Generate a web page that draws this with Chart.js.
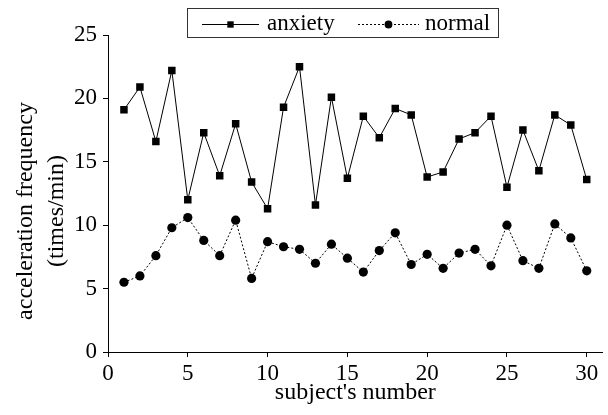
<!DOCTYPE html>
<html>
<head>
<meta charset="utf-8">
<script src="https://cdn.jsdelivr.net/npm/chart.js@4.4.0/dist/chart.umd.min.js"></script>
<style>
  html, body { margin: 0; padding: 0; background: #fff; }
  #wrap { width: 608px; height: 415px; position: relative; }
</style>
</head>
<body>
<div id="wrap"><canvas id="myChart"></canvas></div>
<script>
// data
var subjects = [1, 2, 3, 4, 5, 6, 7, 8, 9, 10, 11, 12, 13, 14, 15,
  16, 17, 18, 19, 20, 21, 22, 23, 24, 25, 26, 27, 28, 29, 30];
var anxiety = [19.1, 20.9, 16.6, 22.2, 12.0, 17.3, 13.9, 18.0, 13.4, 11.3,
  19.3, 22.5, 11.6, 20.1, 13.7, 18.6, 16.9, 19.2, 18.7, 13.8,
  14.2, 16.8, 17.3, 18.6, 13.0, 17.5, 14.3, 18.7, 17.9, 13.6];
var normal = [5.5, 6.0, 7.6, 9.8, 10.6, 8.8, 7.6, 10.4, 5.8, 8.7,
  8.3, 8.1, 7.0, 8.5, 7.4, 6.3, 8.0, 9.4, 6.9, 7.7,
  6.6, 7.8, 8.1, 6.8, 10.0, 7.2, 6.6, 10.1, 9.0, 6.4];
var xTicks = [0, 5, 10, 15, 20, 25, 30];
var yTicks = [0, 5, 10, 15, 20, 25];
var yTitle = ["acceleration frequency", "(times/min)"];

var serif = "'Liberation Serif', 'Times New Roman', serif";

function toPoints(vals) {
  return subjects.map(function (s, i) { return { x: s, y: vals[i] }; });
}

// boxed legend with line samples + the two-line y title
var extras = {
  id: "extras",
  afterDraw: function (chart) {
    var ctx = chart.ctx;
    ctx.save();
    ctx.strokeStyle = "#333";
    ctx.lineWidth = 1;
    ctx.strokeRect(187.5, 8.5, 311, 29);

    var items = [
      { ds: chart.data.datasets[0], x0: 202, x1: 259, tx: 267 },
      { ds: chart.data.datasets[1], x0: 358, x1: 419, tx: 425 },
    ];
    items.forEach(function (it) {
      var ds = it.ds;
      var ly = 24.5;
      ctx.strokeStyle = "#000";
      ctx.lineWidth = 1;
      ctx.setLineDash(ds.borderDash || []);
      ctx.beginPath();
      ctx.moveTo(it.x0, ly);
      ctx.lineTo(it.x1, ly);
      ctx.stroke();
      ctx.setLineDash([]);
      ctx.fillStyle = "#000";
      Chart.helpers.drawPoint(ctx, {
        pointStyle: ds.pointStyle,
        radius: ds.pointRadius * 0.85,
        borderWidth: 0,
      }, (it.x0 + it.x1) / 2, ly);
      ctx.font = "23px " + serif;
      ctx.textBaseline = "alphabetic";
      ctx.textAlign = "left";
      ctx.fillText(ds.label, it.tx, 30);
    });

    // y axis title, two lines, rotated
    ctx.translate(0, 211);
    ctx.rotate(-Math.PI / 2);
    ctx.font = "24px " + serif;
    ctx.textAlign = "center";
    ctx.textBaseline = "middle";
    ctx.fillStyle = "#000";
    ctx.fillText(yTitle[0], 0, 25.5);
    ctx.fillText(yTitle[1], 0, 56.5);
    ctx.restore();
  },
};

var ctx = document.getElementById("myChart").getContext("2d");
var myChart = new Chart(ctx, {
  type: "line",
  data: {
    datasets: [
      {
        label: "anxiety",
        data: toPoints(anxiety),
        borderColor: "#000",
        backgroundColor: "#000",
        borderWidth: 1,
        pointStyle: "rect",
        pointRadius: 5.3,
        pointBorderWidth: 0,
        tension: 0,
      },
      {
        label: "normal",
        data: toPoints(normal),
        borderColor: "#000",
        backgroundColor: "#000",
        borderWidth: 1,
        borderDash: [2, 2],
        pointStyle: "circle",
        pointRadius: 4.6,
        pointBorderWidth: 0,
        tension: 0,
      },
    ],
  },
  options: {
    responsive: true,
    maintainAspectRatio: false,
    animation: false,
    layout: { padding: { top: 35, right: 3, left: 0, bottom: 0 } },
    plugins: {
      legend: { display: false },
      tooltip: { enabled: false },
    },
    scales: {
      x: {
        type: "linear",
        min: 0,
        max: 31,
        afterBuildTicks: function (scale) {
          scale.ticks = xTicks.map(function (v) { return { value: v }; });
        },
        afterFit: function (scale) { scale.height = 63; },
        grid: { drawOnChartArea: false, drawTicks: true, tickLength: 5, color: "#000" },
        border: { color: "#000", width: 1 },
        ticks: {
          color: "#000",
          padding: 3,
          maxRotation: 0,
          font: { family: serif, size: 23 },
        },
        title: {
          display: true,
          text: "subject's number",
          color: "#000",
          font: { family: serif, size: 24, lineHeight: 1.2 },
          padding: { top: 0, bottom: 8 },
        },
      },
      y: {
        min: 0,
        max: 25,
        afterBuildTicks: function (scale) {
          scale.ticks = yTicks.map(function (v) { return { value: v }; });
        },
        afterFit: function (scale) { scale.width = 108; },
        grid: { drawOnChartArea: false, drawTicks: true, tickLength: 5, color: "#000" },
        border: { color: "#000", width: 1 },
        ticks: {
          color: "#000",
          padding: 6,
          font: { family: serif, size: 23 },
        },
      },
    },
  },
  plugins: [extras],
});
</script>
</body>
</html>
